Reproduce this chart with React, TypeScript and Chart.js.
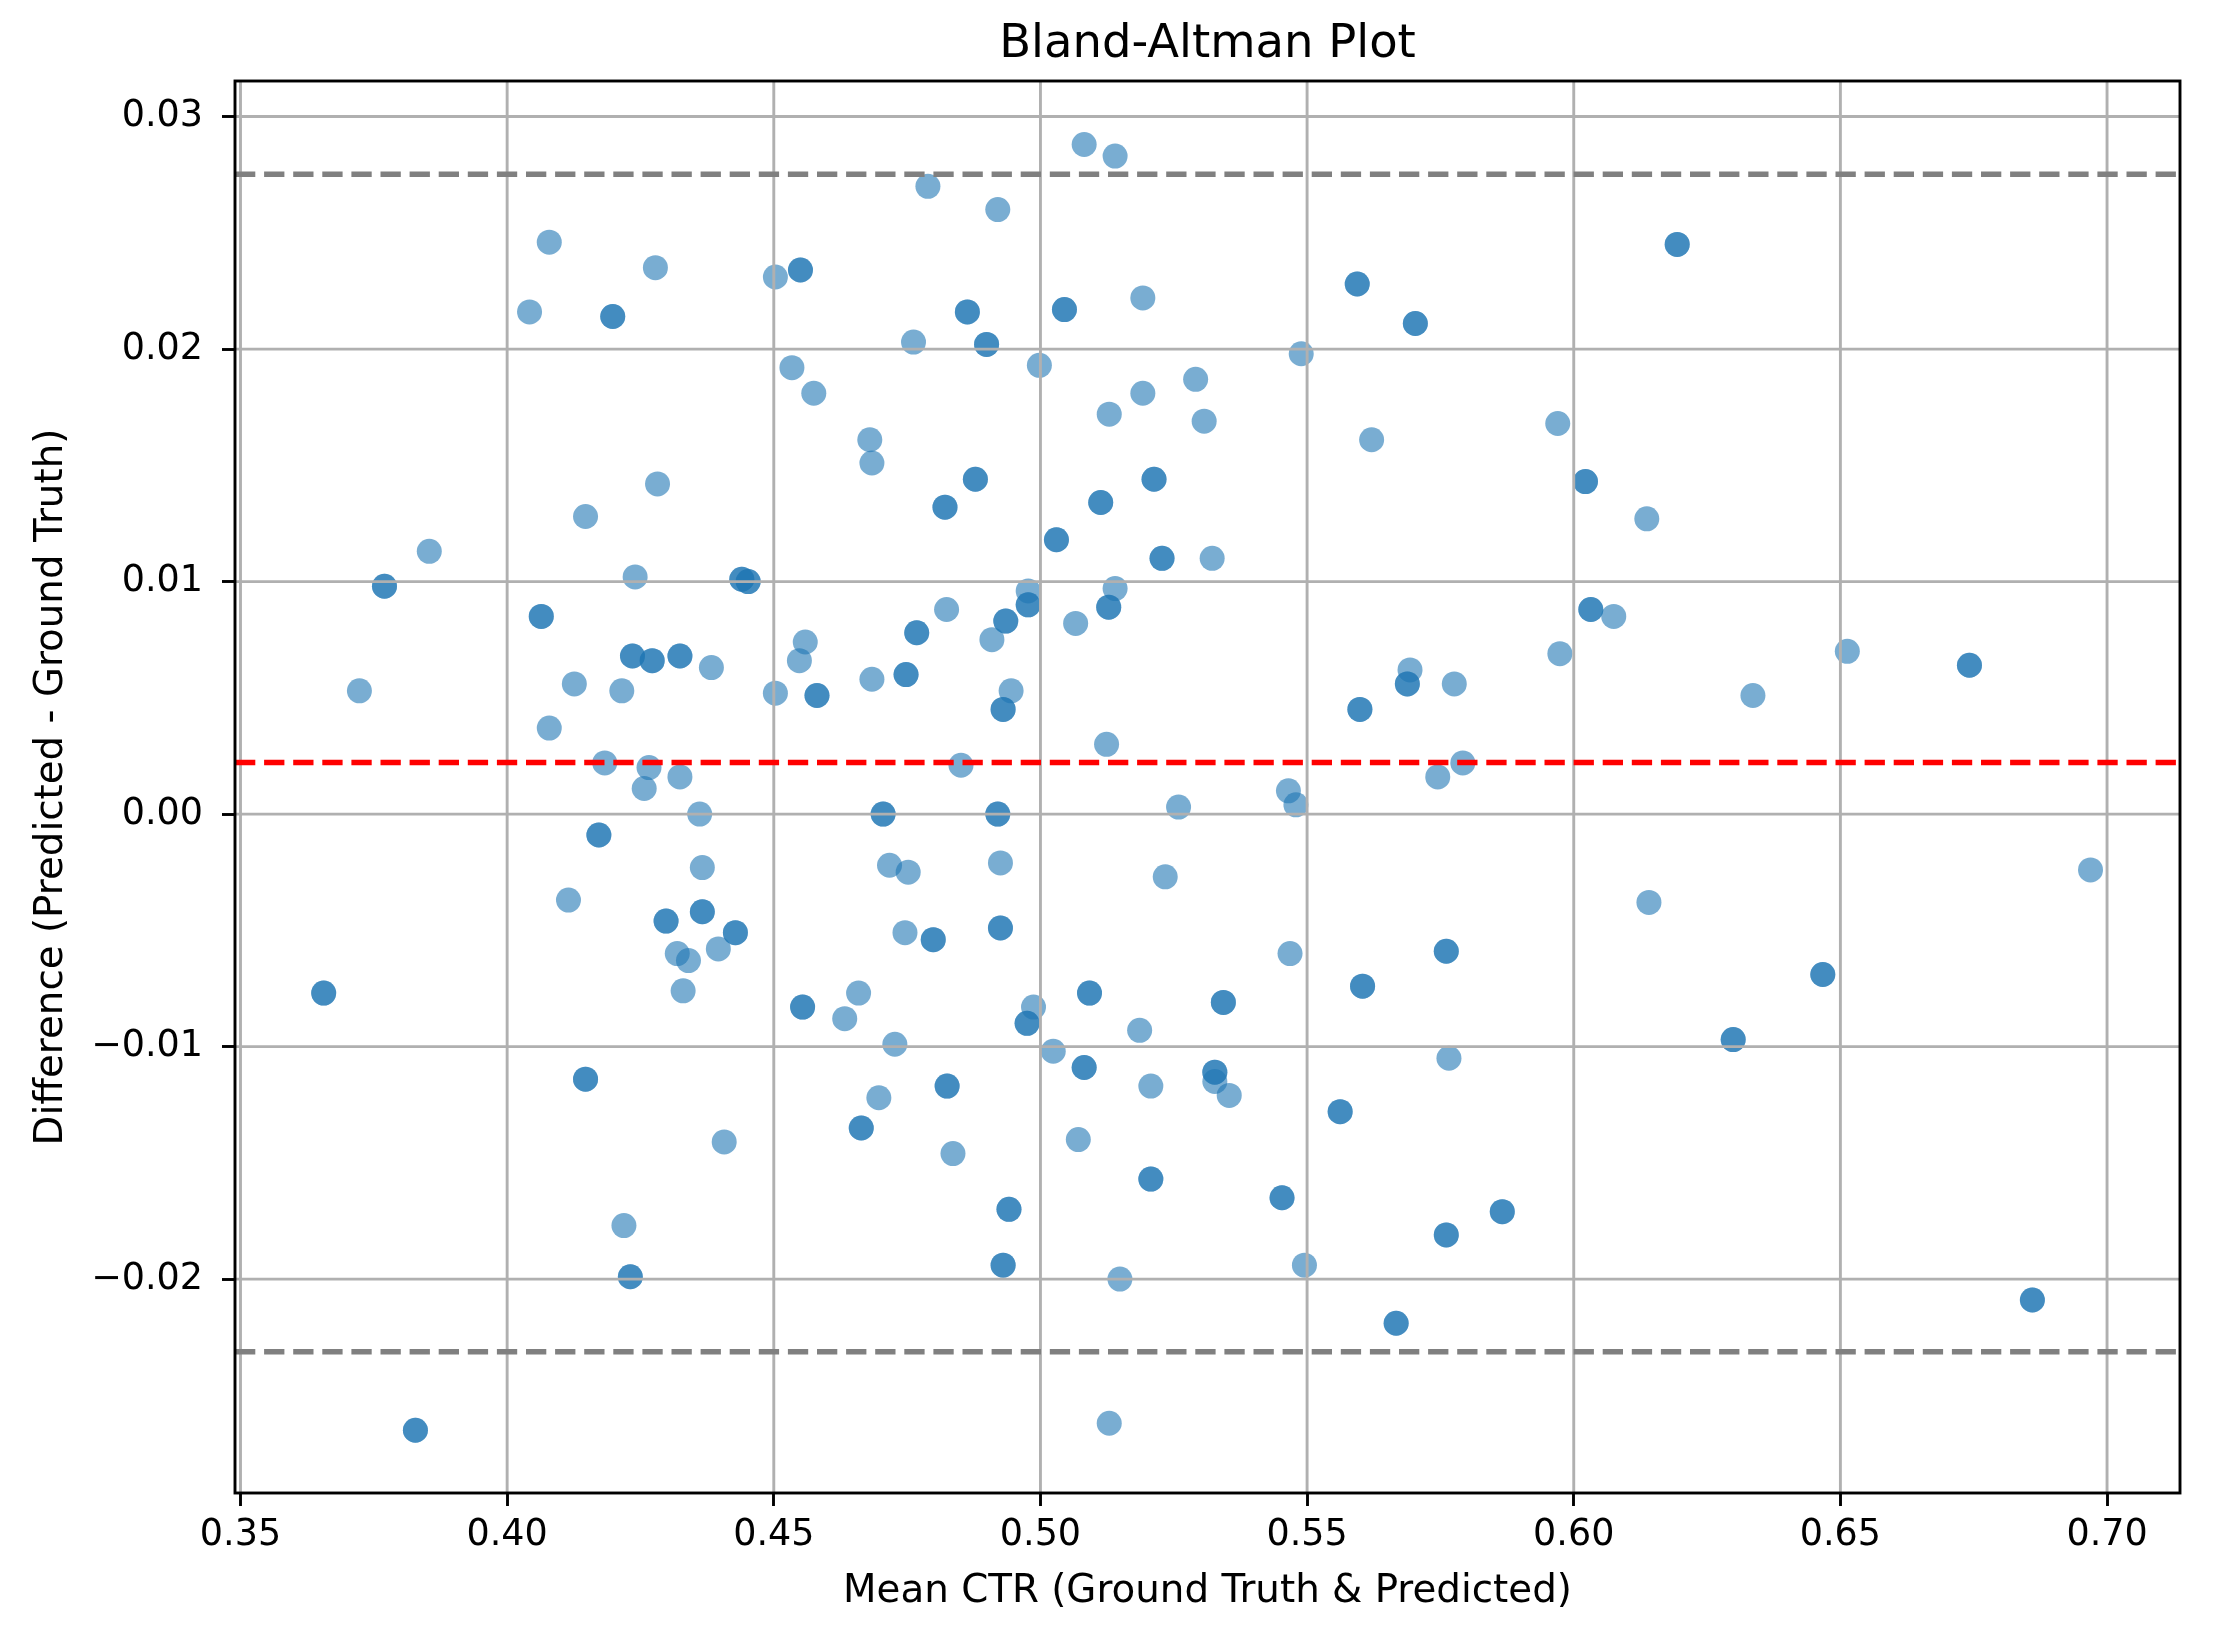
import React, { useEffect, useRef } from "react";
import { Chart, registerables } from "chart.js";

Chart.register(...registerables);

// ---------- data ----------
// Points that look darker in the reference are coincident duplicates, so they are listed twice.
const meanCTR: number[] = [
  0.4079, 0.4278, 0.4503, 0.4550, 0.4550, 0.4042, 0.4198, 0.4198, 0.4534, 0.4575,
  0.4680, 0.4684, 0.4282, 0.4147, 0.3854, 0.3770, 0.3770, 0.4240, 0.4440, 0.4440,
  0.4452, 0.4452, 0.4064, 0.4064, 0.4235, 0.4235, 0.4272, 0.4272, 0.4324, 0.4324,
  0.4383, 0.4559, 0.4548, 0.4581, 0.4581, 0.4503, 0.4684, 0.3723, 0.4126, 0.4215,
  0.4079, 0.4183, 0.4266, 0.4257, 0.4324,
  0.5082, 0.5140, 0.4789, 0.4920, 0.5594, 0.5594, 0.5703, 0.5703, 0.5192, 0.4863,
  0.4863, 0.5045, 0.5045, 0.4762, 0.4899, 0.4899, 0.4998, 0.5489, 0.5291, 0.5192,
  0.5307, 0.5129, 0.5621, 0.4878, 0.4878, 0.4821, 0.4821, 0.5213, 0.5213, 0.5113,
  0.5113, 0.5030, 0.5030, 0.5228, 0.5228, 0.5322, 0.4977, 0.4977, 0.4977, 0.5140,
  0.5128, 0.5128, 0.4824, 0.4768, 0.4768, 0.4935, 0.4935, 0.4909, 0.5066, 0.5693,
  0.5688, 0.5688, 0.5776, 0.5599, 0.5599, 0.4748, 0.4748, 0.4945, 0.4930, 0.4930,
  0.5124, 0.4851, 0.5792, 0.5745, 0.5465, 0.5479,
  0.6194, 0.6194, 0.5970, 0.6022, 0.6022, 0.6137, 0.6032, 0.6032, 0.6075, 0.5974,
  0.6513, 0.6742, 0.6742, 0.6336,
  0.4361, 0.4172, 0.4172, 0.4705, 0.4705, 0.4366, 0.4717, 0.4752, 0.4115, 0.4298,
  0.4298, 0.4366, 0.4366, 0.4428, 0.4428, 0.4319, 0.4340, 0.4396, 0.4330, 0.3656,
  0.3656, 0.4554, 0.4554, 0.4659, 0.4633, 0.4727, 0.4147, 0.4147, 0.4697, 0.4664,
  0.4664, 0.4407, 0.4219, 0.4231, 0.4231, 0.3828, 0.3828,
  0.4920, 0.4920, 0.5259, 0.4925, 0.5234, 0.4746, 0.4799, 0.4799, 0.4925, 0.4925,
  0.5468, 0.5761, 0.5761, 0.5604, 0.5604, 0.5092, 0.5092, 0.5343, 0.5343, 0.4987,
  0.4975, 0.4975, 0.5186, 0.5024, 0.5082, 0.5082, 0.4825, 0.4825, 0.5207, 0.5327,
  0.5327, 0.5327, 0.5354, 0.5766, 0.5562, 0.5562, 0.5071, 0.4836, 0.5207, 0.5207,
  0.5453, 0.5453, 0.4941, 0.4941, 0.5866, 0.5866, 0.5761, 0.5761, 0.4930, 0.4930,
  0.5495, 0.5149, 0.5667, 0.5667, 0.5129,
  0.6141, 0.6299, 0.6299, 0.6467, 0.6467, 0.6860, 0.6860, 0.6969,
];

const diffValues: number[] = [
  0.0246, 0.0235, 0.0231, 0.0234, 0.0234, 0.0216, 0.0214, 0.0214, 0.0192, 0.0181,
  0.0161, 0.0151, 0.0142, 0.0128, 0.0113, 0.0098, 0.0098, 0.0102, 0.0101, 0.0101,
  0.0100, 0.0100, 0.0085, 0.0085, 0.0068, 0.0068, 0.0066, 0.0066, 0.0068, 0.0068,
  0.0063, 0.0074, 0.0066, 0.0051, 0.0051, 0.0052, 0.0058, 0.0053, 0.0056, 0.0053,
  0.0037, 0.0022, 0.0020, 0.0011, 0.0016,
  0.0288, 0.0283, 0.0270, 0.0260, 0.0228, 0.0228, 0.0211, 0.0211, 0.0222, 0.0216,
  0.0216, 0.0217, 0.0217, 0.0203, 0.0202, 0.0202, 0.0193, 0.0198, 0.0187, 0.0181,
  0.0169, 0.0172, 0.0161, 0.0144, 0.0144, 0.0132, 0.0132, 0.0144, 0.0144, 0.0134,
  0.0134, 0.0118, 0.0118, 0.0110, 0.0110, 0.0110, 0.0096, 0.0090, 0.0090, 0.0097,
  0.0089, 0.0089, 0.0088, 0.0078, 0.0078, 0.0083, 0.0083, 0.0075, 0.0082, 0.0062,
  0.0056, 0.0056, 0.0056, 0.0045, 0.0045, 0.0060, 0.0060, 0.0053, 0.0045, 0.0045,
  0.0030, 0.0021, 0.0022, 0.0016, 0.0010, 0.0004,
  0.0245, 0.0245, 0.0168, 0.0143, 0.0143, 0.0127, 0.0088, 0.0088, 0.0085, 0.0069,
  0.0070, 0.0064, 0.0064, 0.0051,
  0.0000, -0.0009, -0.0009, 0.0000, 0.0000, -0.0023, -0.0022, -0.0025, -0.0037, -0.0046,
  -0.0046, -0.0042, -0.0042, -0.0051, -0.0051, -0.0060, -0.0063, -0.0058, -0.0076, -0.0077,
  -0.0077, -0.0083, -0.0083, -0.0077, -0.0088, -0.0099, -0.0114, -0.0114, -0.0122, -0.0135,
  -0.0135, -0.0141, -0.0177, -0.0199, -0.0199, -0.0265, -0.0265,
  0.0000, 0.0000, 0.0003, -0.0021, -0.0027, -0.0051, -0.0054, -0.0054, -0.0049, -0.0049,
  -0.0060, -0.0059, -0.0059, -0.0074, -0.0074, -0.0077, -0.0077, -0.0081, -0.0081, -0.0083,
  -0.0090, -0.0090, -0.0093, -0.0102, -0.0109, -0.0109, -0.0117, -0.0117, -0.0117, -0.0111,
  -0.0111, -0.0115, -0.0121, -0.0105, -0.0128, -0.0128, -0.0140, -0.0146, -0.0157, -0.0157,
  -0.0165, -0.0165, -0.0170, -0.0170, -0.0171, -0.0171, -0.0181, -0.0181, -0.0194, -0.0194,
  -0.0194, -0.0200, -0.0219, -0.0219, -0.0262,
  -0.0038, -0.0097, -0.0097, -0.0069, -0.0069, -0.0209, -0.0209, -0.0024,
];

const meanDiff = 0.00222;
const upperLoA = 0.02752;
const lowerLoA = -0.02312;

const xTicks: number[] = [0.35, 0.4, 0.45, 0.5, 0.55, 0.6, 0.65, 0.7];
const xTickLabels: string[] = ["0.35", "0.40", "0.45", "0.50", "0.55", "0.60", "0.65", "0.70"];
const yTicks: number[] = [-0.02, -0.01, 0.0, 0.01, 0.02, 0.03];
const yTickLabels: string[] = ["\u22120.02", "\u22120.01", "0.00", "0.01", "0.02", "0.03"];

const chartTitle = "Bland-Altman Plot";
const xAxisLabel = "Mean CTR (Ground Truth & Predicted)";
const yAxisLabel = "Difference (Predicted - Ground Truth)";

// axis limits (matplotlib auto-margins)
const xMin = 0.34897;
const xMax = 0.71368;
const yMin = -0.0292;
const yMax = 0.03153;

// ---------- styling ----------
const FONT = '"DejaVu Sans", "Liberation Sans", sans-serif';
const W = 2217;
const H = 1633;
const LW = 2.9;
const TICK_SIZE = 36.5;
const LABEL_SIZE = 38.8;
const TITLE_SIZE = 46.5;

export default function App() {
  const canvasRef = useRef<HTMLCanvasElement | null>(null);

  useEffect(() => {
    const canvas = canvasRef.current;
    if (!canvas) return;

    const gridAbovePoints = {
      id: "gridAbovePoints",
      afterDatasetDraw(chart: any, args: any) {
        if (args.index !== 0) return;
        const { ctx, chartArea, scales } = chart;
        ctx.save();
        ctx.strokeStyle = "#b0b0b0";
        ctx.lineWidth = LW;
        ctx.setLineDash([]);
        ctx.beginPath();
        xTicks.forEach((v) => {
          const px = scales.x.getPixelForValue(v);
          ctx.moveTo(px, chartArea.top);
          ctx.lineTo(px, chartArea.bottom);
        });
        yTicks.forEach((v) => {
          const py = scales.y.getPixelForValue(v);
          ctx.moveTo(chartArea.left, py);
          ctx.lineTo(chartArea.right, py);
        });
        ctx.stroke();
        ctx.restore();
      },
    };

    const framePlugin = {
      id: "frameAndTitle",
      afterDraw(chart: any) {
        const { ctx, chartArea } = chart;
        ctx.save();
        ctx.strokeStyle = "#000000";
        ctx.lineWidth = LW;
        ctx.setLineDash([]);
        ctx.strokeRect(
          chartArea.left,
          chartArea.top,
          chartArea.right - chartArea.left,
          chartArea.bottom - chartArea.top
        );
        ctx.fillStyle = "#000000";
        ctx.font = `${TITLE_SIZE}px ${FONT}`;
        ctx.textAlign = "center";
        ctx.textBaseline = "alphabetic";
        ctx.fillText(chartTitle, (chartArea.left + chartArea.right) / 2, 57);
        ctx.restore();
      },
    };

    const hLine = (y: number, color: string) => ({
      type: "scatter" as const,
      data: [
        { x: xMin, y },
        { x: xMax, y },
      ],
      showLine: true,
      borderColor: color,
      backgroundColor: color,
      borderWidth: 5.5,
      borderDash: [20.3, 8.8],
      borderCapStyle: "butt" as const,
      pointRadius: 0,
      pointHoverRadius: 0,
      fill: false,
      order: 1,
    });

    const chart = new Chart(canvas, {
      type: "scatter",
      data: {
        datasets: [
          {
            data: meanCTR.map((x, i) => ({ x, y: diffValues[i] })),
            backgroundColor: "rgba(31,119,180,0.6)",
            borderWidth: 0,
            pointRadius: 12.5,
            pointHoverRadius: 12.5,
            order: 2,
          },
          hLine(meanDiff, "#ff0000"),
          hLine(upperLoA, "#808080"),
          hLine(lowerLoA, "#808080"),
        ] as any,
      },
      options: {
        animation: false,
        responsive: true,
        maintainAspectRatio: false,
        devicePixelRatio: 1,
        events: [],
        layout: { padding: { top: 81, right: 37, left: 0, bottom: 0 } },
        plugins: {
          legend: { display: false },
          tooltip: { enabled: false },
          title: { display: false },
        },
        scales: {
          x: {
            type: "linear",
            position: "bottom",
            min: xMin,
            max: xMax,
            afterBuildTicks: (scale: any) => {
              scale.ticks = xTicks.map((value) => ({ value }));
            },
            afterFit: (scale: any) => {
              scale.height = 140;
            },
            ticks: {
              autoSkip: false,
              maxRotation: 0,
              minRotation: 0,
              padding: 8,
              color: "#000000",
              font: { family: FONT, size: TICK_SIZE },
              callback: (_v: any, index: number) => xTickLabels[index],
            },
            grid: {
              drawOnChartArea: false,
              drawTicks: true,
              tickLength: 13,
              tickWidth: LW,
              tickColor: "#000000",
            },
            border: { display: false },
            title: {
              display: true,
              text: xAxisLabel,
              color: "#000000",
              font: { family: FONT, size: LABEL_SIZE },
              padding: { top: 0, bottom: 18.2 },
            },
          },
          y: {
            type: "linear",
            position: "left",
            min: yMin,
            max: yMax,
            afterBuildTicks: (scale: any) => {
              scale.ticks = yTicks.map((value) => ({ value }));
            },
            afterFit: (scale: any) => {
              scale.width = 235;
            },
            ticks: {
              autoSkip: false,
              padding: 19,
              color: "#000000",
              font: { family: FONT, size: TICK_SIZE },
              callback: (_v: any, index: number) => yTickLabels[index],
            },
            grid: {
              drawOnChartArea: false,
              drawTicks: true,
              tickLength: 13,
              tickWidth: LW,
              tickColor: "#000000",
            },
            border: { display: false },
            title: {
              display: true,
              text: yAxisLabel,
              color: "#000000",
              font: { family: FONT, size: LABEL_SIZE },
              padding: { top: 28.7, bottom: 0 },
            },
          },
        },
      },
      plugins: [gridAbovePoints, framePlugin],
    } as any);

    return () => {
      chart.destroy();
    };
  }, []);

  return (
    <div
      style={{
        position: "fixed",
        left: 0,
        top: 0,
        width: `${W}px`,
        height: `${H}px`,
        background: "#ffffff",
      }}
    >
      <canvas ref={canvasRef} />
    </div>
  );
}
